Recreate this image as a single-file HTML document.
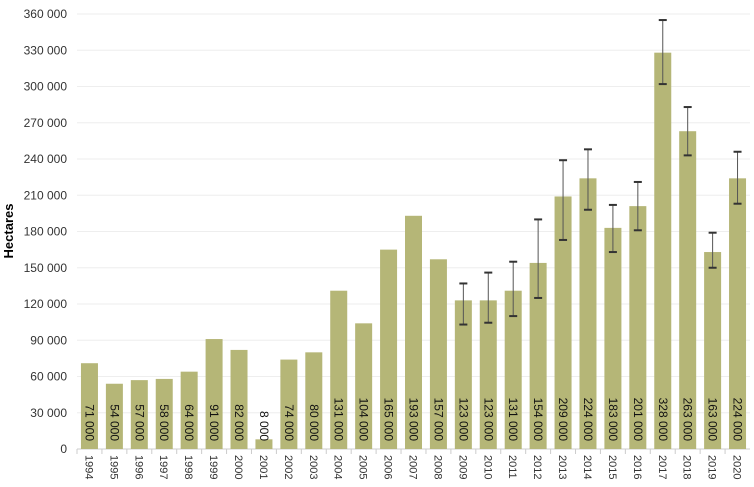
<!DOCTYPE html>
<html><head><meta charset="utf-8"><style>
body{margin:0;background:#fff;}
svg{display:block;font-family:"Liberation Sans",Arial,sans-serif;}
</style></head><body>
<svg id="chart" width="754" height="487"></svg>
<script>
const years=["1994","1995","1996","1997","1998","1999","2000","2001","2002","2003","2004","2005","2006","2007","2008","2009","2010","2011","2012","2013","2014","2015","2016","2017","2018","2019","2020"];
const values=[71000,54000,57000,58000,64000,91000,82000,8000,74000,80000,131000,104000,165000,193000,157000,123000,123000,131000,154000,209000,224000,183000,201000,328000,263000,163000,224000];
const errHigh=[null,null,null,null,null,null,null,null,null,null,null,null,null,null,null,137000,146000,155000,190000,239000,248000,202000,221000,355000,283000,179000,246000];
const errLow=[null,null,null,null,null,null,null,null,null,null,null,null,null,null,null,103000,104500,110000,125000,173000,198000,163000,181000,302000,243000,150000,203000];
const yTicks=[0,30000,60000,90000,120000,150000,180000,210000,240000,270000,300000,330000,360000];
const yTickLabels=["0","30 000","60 000","90 000","120 000","150 000","180 000","210 000","240 000","270 000","300 000","330 000","360 000"];

const svg=document.getElementById('chart');
const NS="http://www.w3.org/2000/svg";
const x0=77,x1=750,yBase=449,yTop=14,yMax=360000;
const step=(x1-x0)/years.length;
const bw=17;
const yS=v=>yBase-(v/yMax)*(yBase-yTop);
const xC=i=>x0+step*(i+0.5);
function mk(tag,attrs,parent){const e=document.createElementNS(NS,tag);for(const k in attrs)e.setAttribute(k,attrs[k]);(parent||svg).appendChild(e);return e;}

yTicks.forEach((t,i)=>{
  const g=mk('line',{x1:x0,x2:x1,y1:yS(t),y2:yS(t),stroke:i===0?'#ccc':'#eeeeee','stroke-width':1});
  
  
  const tx=mk('text',{x:67,y:yS(t)+4,'text-anchor':'end','font-size':12,fill:'#333'});
  tx.textContent=yTickLabels[i];
  
  
});
const yt=mk('text',{transform:'translate(13,231) rotate(-90)','text-anchor':'middle','font-size':13,'font-weight':'bold',fill:'#000'});
yt.textContent='Hectares';



years.forEach((y,i)=>{
  const cx=xC(i);
  const r=mk('rect',{x:cx-bw/2,y:yS(values[i]),width:bw,height:yBase-yS(values[i]),fill:'#b5b677'});
  
  
  const tk=mk('line',{x1:x0+step*i,x2:x0+step*i,y1:yBase,y2:yBase+5,stroke:'#ccc'});
  
  
  const vl=mk('text',{transform:`translate(${cx-4},441) rotate(90)`,'text-anchor':'end','font-size':12,fill:'#111'});
  vl.textContent=(values[i]/1000)+' 000';
  
  
  const xl=mk('text',{transform:`translate(${cx-4},455) rotate(90)`,'text-anchor':'start','font-size':11,fill:'#333'});
  xl.textContent=y;
  
  
  if(errHigh[i]!==null){
    const g=mk('g',{stroke:'#333','stroke-width':1});
    
    
    mk('line',{x1:cx,x2:cx,y1:yS(errHigh[i]),y2:yS(errLow[i]),stroke:'#555'},g);
    mk('line',{x1:cx-4,x2:cx+4,y1:yS(errHigh[i]),y2:yS(errHigh[i]),'stroke-width':2},g);
    mk('line',{x1:cx-4,x2:cx+4,y1:yS(errLow[i]),y2:yS(errLow[i]),'stroke-width':2},g);
  }
});
</script>
</body></html>
